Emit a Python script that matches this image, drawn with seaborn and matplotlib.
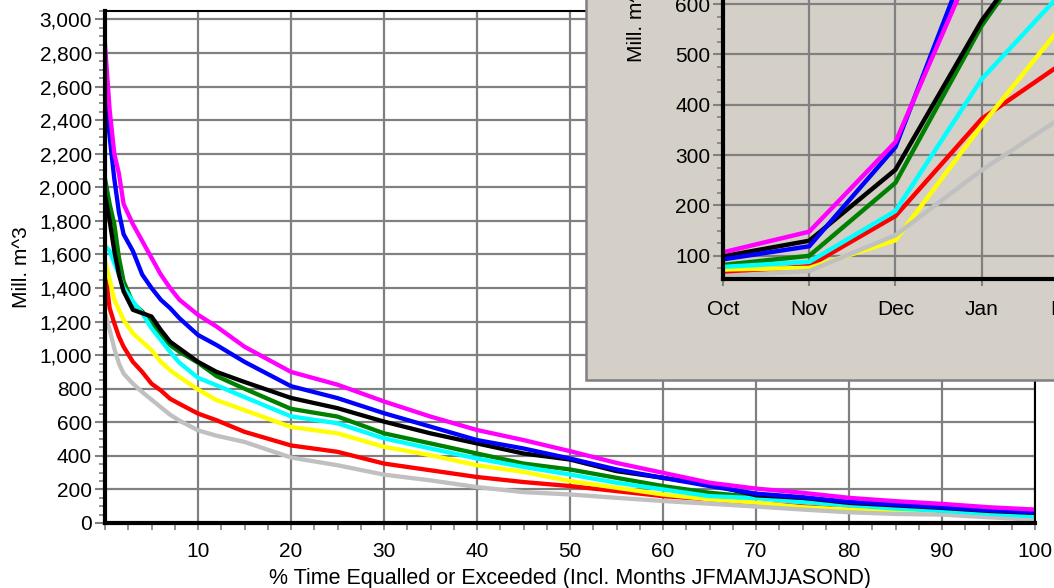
import pandas as pd
import seaborn as sns
import matplotlib.pyplot as plt
from matplotlib.patches import Rectangle
from matplotlib.ticker import MultipleLocator, FuncFormatter

plt.rcParams['font.family'] = ['Liberation Sans', 'DejaVu Sans']

# --- duration curves: % time equalled or exceeded vs flow (Mill. m^3) ---
pct = [0, 0.5, 1, 1.5, 2, 3, 4, 5, 6, 7, 8, 10, 12, 15, 20, 25, 30, 35, 40,
       45, 50, 55, 60, 65, 70, 75, 80, 85, 90, 95, 100]

magenta = [2850, 2460, 2200, 2080, 1900, 1780, 1680, 1580, 1480, 1400, 1330, 1240, 1170, 1050, 900,
           824, 724, 634, 554, 494, 428, 358, 299, 240, 205, 180, 150, 130, 114, 94, 80]
blue = [2600, 2300, 2050, 1850, 1720, 1620, 1480, 1400, 1330, 1280, 1220, 1120, 1060, 960, 815,
        744, 654, 574, 494, 444, 384, 319, 269, 220, 175, 154, 126, 110, 94, 76, 64]
black = [1950, 1800, 1620, 1480, 1380, 1270, 1250, 1230, 1150, 1080, 1040, 960, 900, 840, 745,
         684, 604, 534, 474, 414, 378, 309, 269, 230, 165, 150, 120, 105, 90, 72, 60]
green = [2050, 1900, 1780, 1580, 1440, 1310, 1260, 1190, 1120, 1060, 1020, 955, 875, 800, 680,
         634, 534, 474, 414, 354, 319, 269, 220, 180, 155, 134, 110, 90, 76, 60, 45]
cyan = [1650, 1620, 1550, 1480, 1400, 1320, 1250, 1160, 1090, 1020, 955, 865, 820, 750, 635,
        594, 504, 444, 384, 334, 289, 240, 200, 160, 148, 124, 106, 86, 74, 56, 40]
yellow = [1560, 1450, 1330, 1270, 1210, 1130, 1080, 1030, 960, 910, 870, 795, 732, 672, 572,
          534, 454, 404, 344, 304, 250, 210, 170, 141, 121, 94, 80, 70, 60, 50, 40]
red = [1500, 1280, 1190, 1110, 1050, 960, 900, 830, 790, 740, 710, 652, 612, 543, 462,
       424, 354, 314, 274, 244, 220, 190, 160, 141, 118, 100, 80, 68, 58, 48, 38]
gray = [1250, 1150, 1040, 950, 890, 830, 780, 735, 690, 645, 610, 552, 520, 483, 390,
        344, 288, 254, 214, 184, 170, 150, 131, 115, 98, 80, 64, 54, 50, 34, 20]

# --- inset: monthly values (only Oct..Feb are visible) ---
months = ['Oct', 'Nov', 'Dec', 'Jan', 'Feb']
inset_magenta = [107, 148, 326, 720, 1000]
inset_blue = [93, 119, 316, 760, 1000]
inset_black = [99, 130, 271, 567, 800]
inset_green = [82, 100, 245, 557, 800]
inset_cyan = [78, 88, 189, 451, 636]
inset_yellow = [73, 76, 131, 359, 572]
inset_red = [64, 80, 179, 372, 490]
inset_gray = [60, 70, 141, 270, 383]

colors = {'magenta': '#ff00ff', 'blue': '#0000ff', 'black': '#000000', 'green': '#008000',
          'cyan': '#00ffff', 'yellow': '#ffff00', 'red': '#ff0000', 'gray': '#c0c0c0'}
draw_order = ['red', 'yellow', 'gray', 'green', 'cyan', 'black', 'blue', 'magenta']

main_series = {'magenta': magenta, 'blue': blue, 'black': black, 'green': green,
               'cyan': cyan, 'yellow': yellow, 'red': red, 'gray': gray}
inset_series = {'magenta': inset_magenta, 'blue': inset_blue, 'black': inset_black,
                'green': inset_green, 'cyan': inset_cyan, 'yellow': inset_yellow,
                'red': inset_red, 'gray': inset_gray}

main_df = pd.concat([pd.DataFrame({'pct': pct, 'flow': v, 'series': k})
                     for k, v in main_series.items()], ignore_index=True)
inset_df = pd.concat([pd.DataFrame({'month': range(len(v)), 'flow': v, 'series': k})
                      for k, v in inset_series.items()], ignore_index=True)

W, H = 1054, 588
grid_col = '#808080'
panel_col = '#d4d0c8'
fs = 15

fig = plt.figure(figsize=(W / 100, H / 100), dpi=100)

# main axes
ax = fig.add_axes([105 / W, (H - 523) / H, 930 / W, 512 / H])
sns.lineplot(data=main_df, x='pct', y='flow', hue='series', hue_order=draw_order,
             palette=colors, linewidth=3.1, estimator=None, legend=False, ax=ax)
ax.set_xlim(0, 100)
ax.set_ylim(0, 3050)
ax.xaxis.set_major_locator(MultipleLocator(10))
ax.xaxis.set_minor_locator(MultipleLocator(2.5))
ax.yaxis.set_major_locator(MultipleLocator(200))
ax.yaxis.set_minor_locator(MultipleLocator(50))
ax.xaxis.set_major_formatter(FuncFormatter(lambda v, p: '' if v == 0 else f'{v:.0f}'))
ax.yaxis.set_major_formatter(FuncFormatter(lambda v, p: f'{v:,.0f}'))
ax.grid(True, which='major', color=grid_col, linewidth=1.6)
ax.set_axisbelow(True)
ax.tick_params(axis='y', which='major', length=7.5, width=1.5, color=grid_col, pad=2, labelsize=fs)
ax.tick_params(axis='y', which='minor', length=4, width=1.2, color=grid_col)
ax.tick_params(axis='x', which='both', length=5, width=1.2, color=grid_col, pad=9, labelsize=fs)
for s in ['left', 'bottom']:
    ax.spines[s].set_linewidth(3)
for s in ['top', 'right']:
    ax.spines[s].set_linewidth(1.5)
ax.set_ylabel('Mill. m^3', fontsize=fs)
ax.yaxis.set_label_coords(-0.08, 0.5)
ax.set_xlabel('% Time Equalled or Exceeded (Incl. Months JFMAMJJASOND)', fontsize=15.5)
ax.xaxis.set_label_coords(0.5, -0.088)

# grey panel behind the inset
fig.patches.append(Rectangle((586 / W, (H - 380) / H), 1, 1, transform=fig.transFigure,
                             facecolor=panel_col, edgecolor=grid_col, linewidth=1.8, zorder=1))

# inset axes (runs off the right/top edge of the figure)
ax_in = fig.add_axes([723 / W, (H - 279) / H, 388 / W, 279 / H])
ax_in.set_zorder(2)
ax_in.set_facecolor(panel_col)
sns.lineplot(data=inset_df, x='month', y='flow', hue='series', hue_order=draw_order,
             palette=colors, linewidth=3.2, estimator=None, legend=False, ax=ax_in)
ax_in.set_xlim(0, 4.5)
ax_in.set_ylim(54, 608)
ax_in.set_xticks(range(len(months)))
ax_in.set_xticklabels(months)
ax_in.yaxis.set_major_locator(MultipleLocator(100))
ax_in.yaxis.set_minor_locator(MultipleLocator(25))
ax_in.grid(True, which='major', color=grid_col, linewidth=1.6)
ax_in.set_axisbelow(True)
ax_in.tick_params(axis='y', which='major', length=7, width=1.5, color=grid_col, pad=2, labelsize=fs)
ax_in.tick_params(axis='y', which='minor', length=4, width=1.2, color=grid_col)
ax_in.tick_params(axis='x', which='major', length=5, width=1.5, color=grid_col, pad=10, labelsize=fs)
for s in ['left', 'bottom']:
    ax_in.spines[s].set_linewidth(3)
for s in ['top', 'right']:
    ax_in.spines[s].set_visible(False)
ax_in.set_xlabel('')
ax_in.set_ylabel('Mill. m^3', fontsize=fs)
ax_in.yaxis.set_label_coords(-0.198, 0.923)

fig.savefig('out.png', dpi=100)
